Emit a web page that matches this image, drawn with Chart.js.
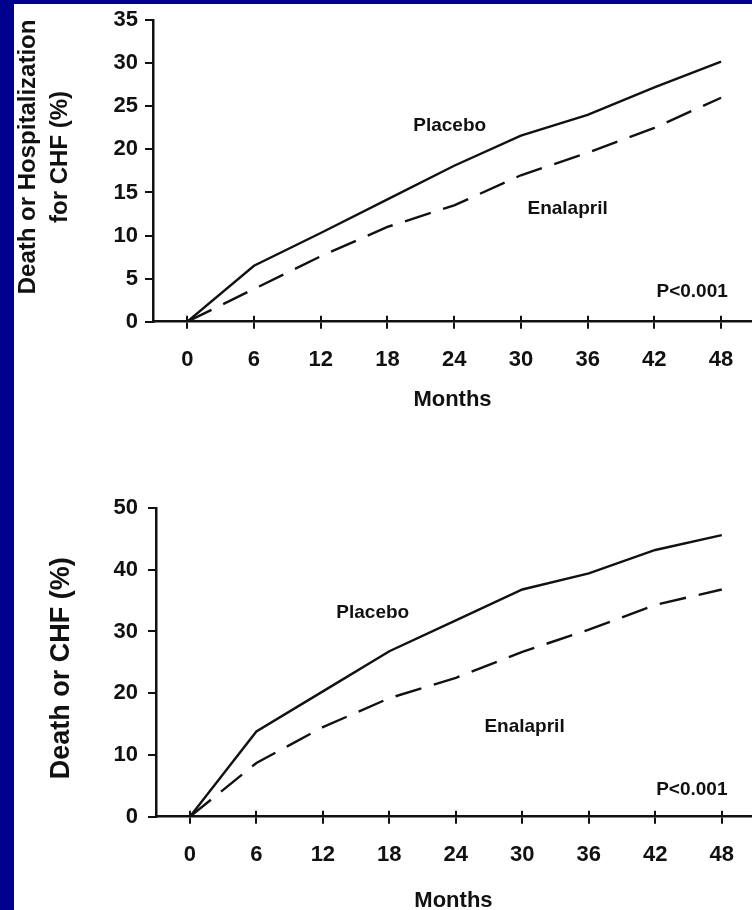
<!DOCTYPE html>
<html><head><meta charset="utf-8">
<script src="https://cdn.jsdelivr.net/npm/chart.js@4.4.1/dist/chart.umd.min.js"></script>
<style>
html,body{margin:0;padding:0;width:752px;height:910px;overflow:hidden;background:#00008e;}
#panel{position:absolute;left:14px;top:4px;width:738px;height:906px;background:#fff;}
#c1{position:absolute;left:0;top:0;width:752px;height:413px;}
#c2{position:absolute;left:0;top:440px;width:752px;height:474px;}
</style></head><body>
<div id="panel"></div>
<canvas id="c1" width="752" height="413"></canvas>
<canvas id="c2" width="752" height="474"></canvas>
<script>
// ---- data ----
const months = [0, 6, 12, 18, 24, 30, 36, 42, 48];
const monthTicks = [0, 6, 12, 18, 24, 30, 36, 42, 48];
const topPlacebo = [0, 6.5, 10.3, 14.2, 18.1, 21.6, 24.0, 27.2, 30.2];
const topEnalapril = [0, 3.8, 7.6, 11.0, 13.5, 17.0, 19.6, 22.5, 26.0];
const topYTicks = [0, 5, 10, 15, 20, 25, 30, 35];
const bottomPlacebo = [0, 13.8, 20.3, 26.8, 31.8, 36.8, 39.4, 43.2, 45.6];
const bottomEnalapril = [0, 8.7, 14.5, 19.2, 22.5, 26.7, 30.3, 34.3, 36.8];
const bottomYTicks = [0, 10, 20, 30, 40, 50];
const topYTitle = ['Death or Hospitalization', 'for CHF (%)'];
const bottomYTitle = ['Death or CHF (%)'];
const xTitle = 'Months';
const topNotes = [
  {text: 'Placebo', x: 23.6, y: 22.7},
  {text: 'Enalapril', x: 34.2, y: 13.1},
  {text: 'P<0.001', x: 45.4, y: 3.5}
];
const bottomNotes = [
  {text: 'Placebo', x: 16.5, y: 33.0},
  {text: 'Enalapril', x: 30.2, y: 14.5},
  {text: 'P<0.001', x: 45.3, y: 4.3}
];

const FONT = '"Liberation Sans", Arial, Helvetica, sans-serif';
const INK = '#111';

const upTicks = {
  id: 'upTicks',
  afterDraw(chart) {
    const xs = chart.scales.x, ctx = chart.ctx, yb = chart.chartArea.bottom;
    ctx.save();
    ctx.strokeStyle = INK; ctx.lineWidth = 2;
    monthTicks.forEach(v => {
      const px = Math.round(xs.getPixelForValue(v));
      ctx.beginPath(); ctx.moveTo(px, yb - 6); ctx.lineTo(px, yb); ctx.stroke();
    });
    ctx.restore();
  }
};
const notesPlugin = {
  id: 'notes',
  afterDatasetsDraw(chart, args, opts) {
    const ctx = chart.ctx, xs = chart.scales.x, ys = chart.scales.y;
    ctx.save();
    ctx.fillStyle = INK;
    ctx.font = 'bold 19px ' + FONT;
    ctx.textAlign = 'center'; ctx.textBaseline = 'middle';
    (opts.items || []).forEach(n => ctx.fillText(n.text, xs.getPixelForValue(n.x), ys.getPixelForValue(n.y)));
    ctx.restore();
  }
};
const yTitlePlugin = {
  id: 'yTitle',
  afterDraw(chart, args, opts) {
    const ctx = chart.ctx, a = chart.chartArea;
    const cy = (a.top + a.bottom) / 2 + opts.shift;
    ctx.save();
    ctx.fillStyle = INK;
    ctx.font = 'bold ' + opts.size + 'px ' + FONT;
    ctx.textAlign = 'center'; ctx.textBaseline = 'middle';
    opts.lines.forEach((t, i) => {
      ctx.save();
      ctx.translate(opts.x[i], cy);
      ctx.rotate(-Math.PI / 2);
      ctx.fillText(t, 0, 0);
      ctx.restore();
    });
    ctx.restore();
  }
};

function makeChart(id, c) {
  const pts = arr => months.map((m, i) => ({x: m, y: arr[i]}));
  return new Chart(document.getElementById(id), {
    type: 'line',
    data: {datasets: [
      {label: 'Placebo', data: pts(c.placebo), borderColor: INK, borderWidth: 2.4, pointRadius: 0, tension: 0, fill: false},
      {label: 'Enalapril', data: pts(c.enalapril), borderColor: INK, borderWidth: 2.4, borderDash: [27, 13], pointRadius: 0, tension: 0, fill: false}
    ]},
    options: {
      responsive: false, animation: false, events: [],
      layout: {padding: {top: c.padTop, left: 0, right: 0, bottom: 0}},
      plugins: {
        legend: {display: false}, tooltip: {enabled: false},
        notes: {items: c.notes},
        yTitle: {lines: c.yTitle, size: c.yTitleSize, x: c.yTitleX, shift: c.yTitleShift}
      },
      scales: {
        x: {
          type: 'linear', min: c.xMin, max: c.xMax,
          afterBuildTicks: s => { s.ticks = monthTicks.map(v => ({value: v})); },
          afterFit: s => { s.height = c.xHeight; },
          grid: {drawOnChartArea: false, drawTicks: true, tickLength: 7, color: INK, lineWidth: 2},
          border: {display: true, color: INK, width: 2.5},
          ticks: {color: INK, font: {family: FONT, size: 22, weight: 'bold'}, padding: 18, autoSkip: false, maxRotation: 0, callback: v => String(v)},
          title: {display: true, text: xTitle, color: INK, font: {family: FONT, size: 22, weight: 'bold'}, padding: {top: 0, bottom: 0}}
        },
        y: {
          type: 'linear', min: 0, max: c.yMax,
          afterBuildTicks: s => { s.ticks = c.yTicks.map(v => ({value: v})); },
          afterFit: s => { s.width = c.yWidth; },
          grid: {drawOnChartArea: false, drawTicks: true, tickLength: 8, color: INK, lineWidth: 2},
          border: {display: true, color: INK, width: 2.5},
          ticks: {color: INK, font: {family: FONT, size: 22, weight: 'bold'}, padding: c.yPad, callback: v => String(v)}
        }
      }
    },
    plugins: [upTicks, notesPlugin, yTitlePlugin]
  });
}

makeChart('c1', {
  placebo: topPlacebo, enalapril: topEnalapril, yTicks: topYTicks, yMax: 35,
  xMin: -3.08, xMax: 50.78, padTop: 13.7, xHeight: 91.3, yWidth: 153, yPad: 7,
  yTitle: topYTitle, yTitleSize: 24, yTitleX: [28, 60], yTitleShift: -14, notes: topNotes
});
makeChart('c2', {
  placebo: bottomPlacebo, enalapril: bottomEnalapril, yTicks: bottomYTicks, yMax: 50,
  xMin: -3.06, xMax: 50.63, padTop: 68, xHeight: 97.3, yWidth: 156, yPad: 10,
  yTitle: bottomYTitle, yTitleSize: 27, yTitleX: [62], yTitleShift: 6, notes: bottomNotes
});
</script>
</body></html>
